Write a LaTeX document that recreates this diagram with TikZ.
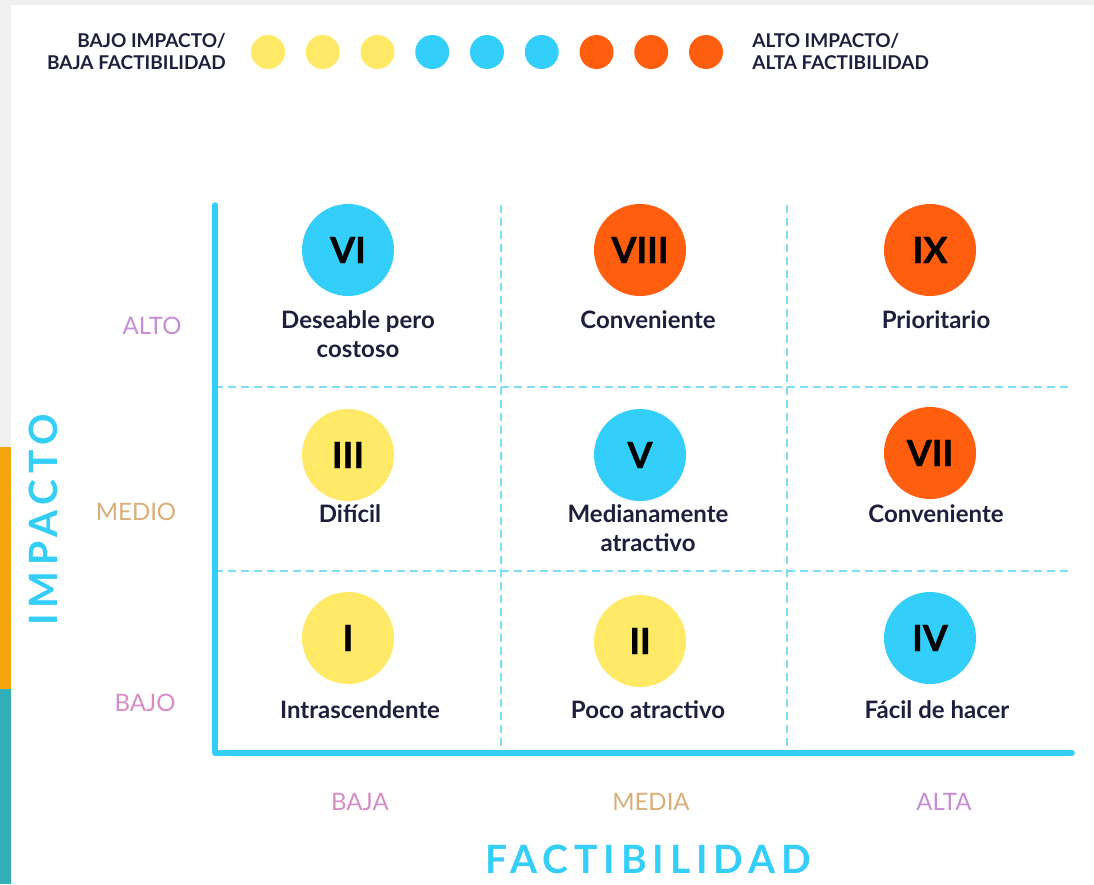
\documentclass[tikz,border=0pt]{standalone}
\usepackage{fontspec}
\setmainfont{Lato}
\newfontfamily\spacedfont[LetterSpace=15]{Lato}
\newfontfamily\heavyfont[FakeBold=1.2]{Lato}
\usetikzlibrary{positioning}

\definecolor{axiscyan}{HTML}{35CEF8}
\definecolor{gridcyan}{HTML}{7DDCF6}
\definecolor{dotyellow}{HTML}{FFE966}
\definecolor{dotcyan}{HTML}{33CFFA}
\definecolor{dotorange}{HTML}{FF5E0F}
\definecolor{textnavy}{HTML}{1E1F3D}
\definecolor{pagegray}{HTML}{F0F0F0}
\definecolor{barorange}{HTML}{F3A60F}
\definecolor{barteal}{HTML}{33AFB7}
\definecolor{tickpink}{HTML}{D88CC6}
\definecolor{tickgold}{HTML}{D9AE78}
\definecolor{tickviolet}{HTML}{C68CD6}

\begin{document}
\begin{tikzpicture}[x=1pt, y=-1pt,
    numcirc/.style={circle, minimum size=92pt, inner sep=0pt, text=black,
        font=\fontsize{36}{36}\heavyfont\bfseries},
    celltext/.style={text=textnavy, align=center, inner sep=0pt,
        font=\fontsize{24}{29}\selectfont\bfseries},
    legtext/.style={text=textnavy, inner sep=0pt,
        font=\fontsize{19}{22}\selectfont\bfseries},
    legdot/.style={circle, minimum size=34pt, inner sep=0pt},
    ticktext/.style={inner sep=0pt, font=\fontsize{24}{24}\selectfont},
    axistitle/.style={text=axiscyan, inner sep=0pt,
        font=\fontsize{39}{39}\spacedfont\bfseries},
    gridline/.style={gridcyan, line width=1.5pt, dash pattern=on 8pt off 5pt}]
    \useasboundingbox (0,0) rectangle (1094,884);
    % page and side bars
    \fill[pagegray] (0,0) rectangle (1094,884);
    \fill[white] (11,5) rectangle (1094,884);
    \fill[barorange] (0,447) rectangle (11,689);
    \fill[barteal] (0,689) rectangle (11,884);

    % legend
    \foreach \c [count=\k] in {dotyellow,dotyellow,dotyellow,dotcyan,dotcyan,dotcyan,dotorange,dotorange,dotorange}
        \node[legdot, fill=\c] (dot\k) at ({268+54.75*(\k-1)},52) {};
    \node[legtext, align=right, left=25pt of dot1] (lowlegend) {BAJO IMPACTO/\\BAJA FACTIBILIDAD};
    \node[legtext, align=left, right=29pt of dot9] (highlegend) {ALTO IMPACTO/\\ALTA FACTIBILIDAD};

    % grid
    \coordinate (ytop) at (215,205);
    \coordinate (origin) at (215,753);
    \coordinate (xend) at (1072,753);
    \draw[gridline] (501,205) -- (501,753);
    \draw[gridline] (787,205) -- (787,753);
    \draw[gridline] (215,387) -- (1072,387);
    \draw[gridline] (215,571) -- (1072,571);
    \draw[axiscyan, line width=5.5pt, line join=round, line cap=round] (ytop) -- (origin) -- (xend);

    % cells
    \node[numcirc, fill=dotcyan] (vi) at (348,250) {VI};
    \node[numcirc, fill=dotorange] (viii) at (640,250) {VIII};
    \node[numcirc, fill=dotorange] (ix) at (930,250) {IX};
    \node[numcirc, fill=dotyellow] (iii) at (348,455) {III};
    \node[numcirc, fill=dotcyan] (v) at (640,455) {V};
    \node[numcirc, fill=dotorange] (vii) at (930,453) {VII};
    \node[numcirc, fill=dotyellow] (i) at (348,638) {I};
    \node[numcirc, fill=dotyellow] (ii) at (640,641) {II};
    \node[numcirc, fill=dotcyan] (iv) at (930,638) {IV};

    \node[celltext] (vitext) at (358,334.5) {Deseable pero\\costoso};
    \node[celltext, anchor=base] (viiitext) at (648,328) {Conveniente};
    \node[celltext, anchor=base] (ixtext) at (936,328) {Prioritario};
    \node[celltext, anchor=base] (iiitext) at (350,522) {Difícil};
    \node[celltext] (vtext) at (648,528.5) {Medianamente\\atractivo};
    \node[celltext, anchor=base] (viitext) at (936,522) {Conveniente};
    \node[celltext, anchor=base] (itext) at (360,718) {Intrascendente};
    \node[celltext, anchor=base] (iitext) at (648,718) {Poco atractivo};
    \node[celltext, anchor=base] (ivtext) at (937,718) {Fácil de hacer};

    % axis labels
    \node[ticktext, text=tickviolet] (alto) at (152,326) {ALTO};
    \node[ticktext, text=tickgold] (medio) at (136,512) {MEDIO};
    \node[ticktext, text=tickpink] (bajo) at (145,703) {BAJO};
    \node[ticktext, text=tickpink] (baja) at (360,802) {BAJA};
    \node[ticktext, text=tickgold] (media) at (651,802) {MEDIA};
    \node[ticktext, text=tickviolet] (alta) at (944,802) {ALTA};
    \node[axistitle] (factib) at (648,859) {FACTIBILIDAD};
    \node[axistitle, rotate=90] (impacto) at (43,520) {IMPACTO};
\end{tikzpicture}
\end{document}
